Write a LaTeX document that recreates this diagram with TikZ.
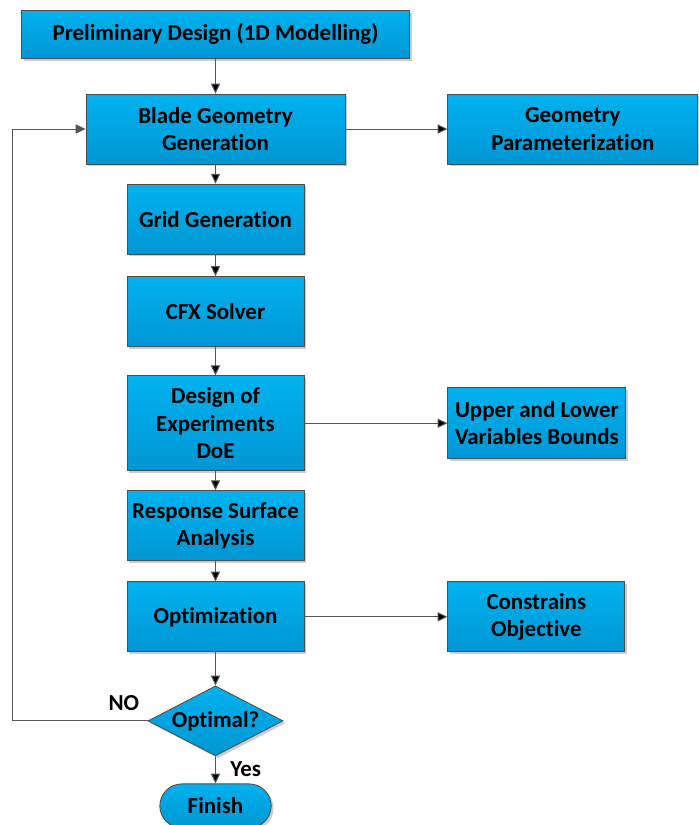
\documentclass[tikz,border=0pt]{standalone}
\usepackage{fontspec}
\setmainfont{Carlito}[RawFeature=-liga]
\usepackage{xcolor}
\usepackage{tikz}
\usetikzlibrary{arrows.meta}
\usetikzlibrary{shapes.geometric,shapes.misc,shadows}
\usetikzlibrary{positioning}

\definecolor{boxtop}{HTML}{00B2EE}
\definecolor{boxbot}{HTML}{0096D4}
\definecolor{boxline}{HTML}{4D4D4D}
\definecolor{arrowgray}{HTML}{555555}

\begin{document}
\begin{tikzpicture}[->,>={Triangle[length=7pt,width=6.5pt]},semithick,font=\bfseries\fontsize{16.3}{19.5}\selectfont]
				\tikzstyle{proc}=[draw=boxline, line width=0.6pt, rectangle, top color=boxtop, bottom color=boxbot, align=center, inner sep=2pt, minimum width=4.425cm, minimum height=1.75cm, drop shadow={shadow xshift=0.06cm,shadow yshift=-0.06cm,fill=black!50,opacity=0.4}]
				\tikzstyle{dec}=[proc, diamond, aspect=1.96, minimum width=3.375cm, minimum height=1.75cm, inner sep=0pt]
				\tikzstyle{term}=[proc, rounded rectangle, minimum width=2.925cm, minimum height=1.1cm]
				\tikzstyle{arr}=[draw=arrowgray, line width=0.7pt]
				\useasboundingbox (0,0) rectangle (17.45,-20.625);
					\node[proc, minimum width=6.475cm]	(blade) at (5.3875,-3.225) {Blade Geometry\\Generation};
					\node[proc, minimum width=9.7cm, minimum height=1.2cm]	(prelim) [above=0.875cm of blade] {Preliminary Design (1D Modelling)};
					\node[proc, minimum width=6.25cm]	(geom) [right=2.55cm of blade] {Geometry\\Parameterization};
					\node[proc]		(grid) [below=0.48cm of blade] {Grid Generation};
					\node[proc]		(cfx) [below=0.54cm of grid] {CFX Solver};
					\node[proc, minimum height=2.375cm]	(doe) [below=0.71cm of cfx] {Design of\\Experiments\\DoE};
					\node[proc, minimum width=4.45cm, minimum height=1.775cm]	(bounds) [right=3.575cm of doe] {Upper and Lower\\Variables Bounds};
					\node[proc]		(rsa) [below=0.475cm of doe] {Response Surface\\Analysis};
					\node[proc]		(optim) [below=0.51cm of rsa] {Optimization};
					\node[proc]		(constr) [right=3.575cm of optim] {Constrains\\Objective};
					\node[dec]		(optimal) [below=0.83cm of optim] {Optimal?};
					\node[term]		(finish) [below=0.68cm of optimal] {Finish};
					\node[inner sep=0pt]	(no) [above left=0.25cm and 0.2cm of optimal.west] {NO};
					\node[inner sep=0pt]	(yes) [below right=0.125cm and 0.36cm of optimal.south] {Yes};
					\coordinate (loop) at (0.3,0);
					\path[arr]
								(prelim) edge (blade)
								(blade) edge (geom)
								(blade) edge (grid)
								(grid) edge (cfx)
								(cfx) edge (doe)
								(doe) edge (bounds)
								(doe) edge (rsa)
								(rsa) edge (optim)
								(optim) edge (constr)
								(optim) edge (optimal)
								(optimal) edge (finish);
					% back to the blade when not optimal
					\draw[arr] (optimal.west) -- (optimal.west -| loop) |- (blade.west);
\end{tikzpicture}
\end{document}
